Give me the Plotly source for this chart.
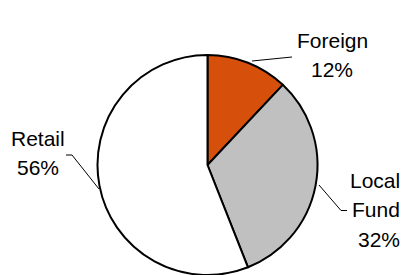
import plotly.graph_objects as go

# Data
categories = ["Foreign", "Local Fund", "Retail"]
values = [12, 32, 56]
colors = ["#D64F0B", "#C0C0C0", "#FFFFFF"]

W, H = 403, 275
total = sum(values)
pcts = [round(v / total * 100) for v in values]

def px(x, y):
    # page pixel -> paper coordinates
    return x / W, 1 - y / H

dx0, _ = px(97.5, 0)
dx1, _ = px(317.5, 0)
_, dy1 = px(0, 55)

fig = go.Figure(go.Pie(
    labels=categories,
    values=values,
    sort=False,
    direction="clockwise",
    rotation=0,
    marker=dict(colors=colors, line=dict(color="#000000", width=2)),
    textinfo="none",
    hoverinfo="label+percent",
    showlegend=False,
    domain=dict(x=[dx0, dx1], y=[0, dy1]),
))

# label layout: (anchor x, x anchor, list of line center ys) in pixels
label_pos = {
    "Foreign": (332, "center", [40.5, 69.5]),
    "Local Fund": (401.5, "right", [180.5, 209.5, 239]),
    "Retail": (38, "center", [138.5, 167.5]),
}
leaders = {
    "Foreign": [(252, 61), (292, 57)],
    "Local Fund": [(319, 185), (341, 210.5), (347, 210.5)],
    "Retail": [(99, 189), (72, 155), (66, 155)],
}

annotations = []
shapes = []
for cat, p in zip(categories, pcts):
    cx, anch, ys = label_pos[cat]
    lines = cat.split(" ") + [f"{p}%"]
    for txt, yy in zip(lines, ys):
        xx, yp = px(cx, yy)
        annotations.append(dict(
            text=txt, x=xx, y=yp, xref="paper", yref="paper",
            xanchor=anch, yanchor="middle", showarrow=False,
            font=dict(family="Arial, Liberation Sans, sans-serif", size=21, color="#000000"),
        ))
    pts = leaders[cat]
    for (x0, y0), (x1, y1) in zip(pts[:-1], pts[1:]):
        a0, b0 = px(x0, y0)
        a1, b1 = px(x1, y1)
        shapes.append(dict(type="line", xref="paper", yref="paper",
                           x0=a0, y0=b0, x1=a1, y1=b1,
                           line=dict(color="#000000", width=1)))

fig.update_layout(
    width=W, height=H,
    margin=dict(l=0, r=0, t=0, b=0),
    paper_bgcolor="#FFFFFF",
    plot_bgcolor="#FFFFFF",
    annotations=annotations,
    shapes=shapes,
)

fig.write_html(
    "out.html",
    config={"displayModeBar": False},
    post_script="document.body.style.margin='0';document.body.style.overflow='hidden';",
)
